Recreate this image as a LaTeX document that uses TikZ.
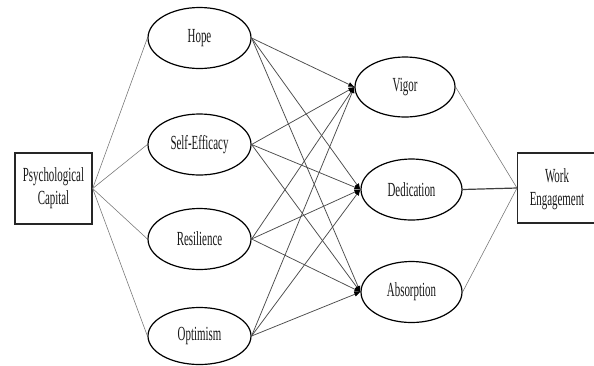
\documentclass[tikz,border=0pt]{standalone}
\usepackage{fontspec}
\setmainfont{Liberation Serif}
\usetikzlibrary{shapes.geometric,arrows.meta}
\newcommand{\sqz}[1]{\scalebox{0.545}[1]{#1}}
\begin{document}
\begin{tikzpicture}[x=1pt,y=-1pt,
  lbl/.style={font=\fontsize{20}{23}\selectfont, inner sep=0pt, text=black!90},
  oval/.style={lbl, ellipse, draw=black, line width=1.2pt, minimum width=103pt, minimum height=61pt},
  rbox/.style={lbl, rectangle, draw=black!85, line width=1.3pt, align=center},
  thin/.style={draw=black!55, line width=0.55pt},
  cross/.style={draw=black!70, line width=0.75pt, -{Latex[length=6pt,width=5pt,black]}},
]
\clip (0,0) rectangle (594,365);
\fill[white] (0,0) rectangle (594,365);
% boxes
\node[rbox, minimum width=77pt, minimum height=71pt] (pc) at (53.5,188.5) {\sqz{\begin{tabular}{@{}c@{}}Psychological\\Capital\end{tabular}}};
\node[rbox, minimum width=90pt, minimum height=70pt, anchor=west] (we) at (517,188) {};
\node[lbl] (wetext) at (557,189) {\sqz{\begin{tabular}{@{}c@{}}Work\\Engagement\end{tabular}}};
% left ovals
\node[oval] (hope) at (199.5,38) {\sqz{Hope}};
\node[oval] (self) at (199.5,144.5) {\sqz{Self-Efficacy}};
\node[oval] (res) at (199.5,239) {\sqz{Resilience}};
\node[oval, minimum height=57pt] (opt) at (199.5,336) {\sqz{Optimism}};
% right ovals
\node[oval, minimum width=100pt, minimum height=60pt] (vig) at (405,87) {\sqz{Vigor}};
\node[oval, minimum width=101pt] (ded) at (411.5,189.5) {\sqz{Dedication}};
\node[oval, minimum width=101pt] (abs) at (411.5,292) {\sqz{Absorption}};
% connectors from PsyCap
\foreach \t in {hope,self,res,opt}{\draw[thin] (pc.east) -- (\t.west);}
% cross connectors
\foreach \s in {hope,self,res,opt}{
  \foreach \t in {vig,ded,abs}{\draw[cross] (\s.east) -- (\t.west);}
}
% to Work Engagement
\draw[thin] (vig.east) -- (we.west);
\draw[draw=black!75, line width=1.2pt] (ded.east) -- (we.west);
\draw[thin] (abs.east) -- (we.west);
\end{tikzpicture}
\end{document}
